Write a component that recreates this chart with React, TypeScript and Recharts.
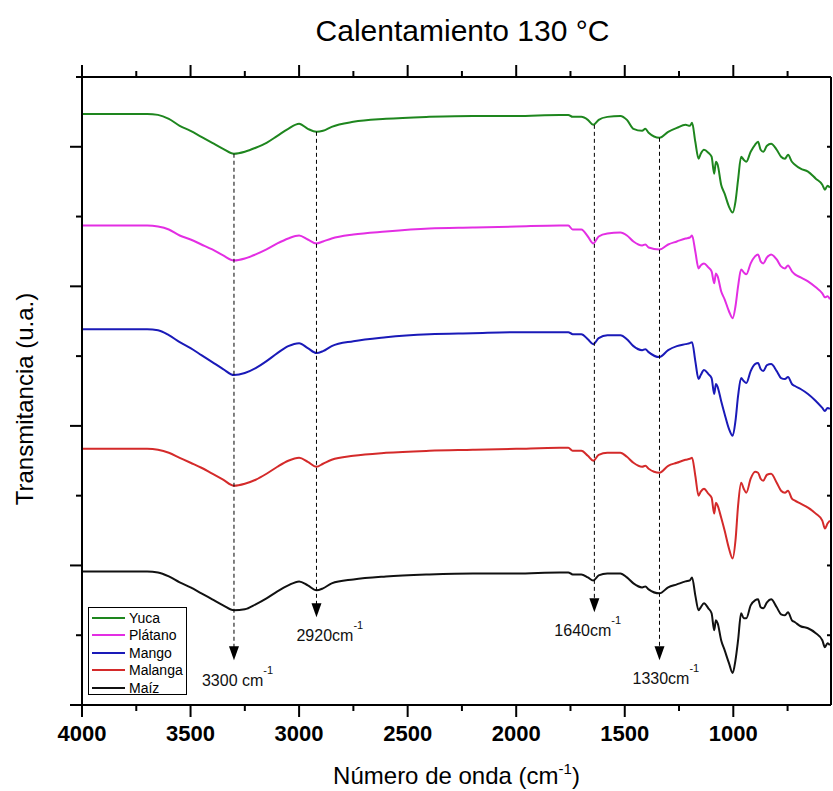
import React from "react";
import {
  LineChart,
  Line,
  XAxis,
  YAxis,
  Legend,
  Label,
  ReferenceLine,
  ReferenceDot,
} from "recharts";

// wavenumbers (cm-1)
const wavenumbers = [
  4000, 3700, 3650, 3600, 3550, 3500, 3450, 3400, 3350, 3300,
  3250, 3200, 3150, 3100, 3050, 3000, 2960, 2920, 2890, 2850,
  2750, 2600, 2400, 2200, 2000, 1800, 1760, 1740, 1700, 1670,
  1645, 1620, 1580, 1520, 1490, 1460, 1420, 1405, 1390, 1340,
  1300, 1260, 1220, 1200, 1190, 1175, 1160, 1150, 1135, 1115,
  1100, 1088, 1080, 1072, 1056, 1040, 1020, 1003, 990, 978,
  964, 952, 940, 920, 900, 886, 874, 862, 845, 826,
  800, 780, 762, 748, 730, 716, 690, 656, 620, 590,
  578, 566, 555,
];

// transmittance (u.a.), each curve already stacked with its offset
const yuca = [
  593, 593, 592, 588, 581, 576, 570, 564, 558, 553,
  555, 559, 564, 571, 578, 583, 578, 575, 576, 580,
  585, 588, 590, 591, 591, 592, 592, 590, 590, 587,
  582, 587, 590, 591, 587, 578, 576, 578, 574, 569,
  575, 579, 582, 581, 584, 565, 548, 553, 557, 554,
  550, 533, 545, 542, 522, 513, 500, 494, 505, 527,
  550, 547, 545, 555, 562, 565, 557, 555, 561, 563,
  557, 550, 548, 552, 545, 542, 538, 535, 528, 522,
  517, 521, 519,
];

const platano = [
  481, 481, 480, 477, 471, 467, 462, 457, 451, 446,
  448, 452, 457, 463, 468, 471, 467, 463, 465, 468,
  472, 475, 478, 479, 480, 481, 481, 477, 477, 470,
  463, 470, 473, 474, 471, 465, 461, 462, 459, 457,
  462, 465, 468, 469, 471, 455, 438, 441, 443, 439,
  435, 423, 433, 430, 415, 407, 395, 388, 400, 420,
  437, 434, 432, 443, 450, 452, 445, 443, 449, 452,
  447, 440, 438, 441, 435, 432, 429, 425, 419, 413,
  409, 410, 407,
];

const mango = [
  377, 377, 376, 371, 364, 358, 351, 344, 337, 331,
  333, 338, 345, 353, 360, 363, 358, 353, 355, 360,
  365, 369, 372, 373, 374, 374, 374, 372, 372, 367,
  362, 368, 371, 371, 367, 360, 356, 357, 354, 349,
  356, 360, 362, 363, 364, 345, 327, 331, 336, 332,
  328, 312, 322, 319, 305, 292, 277, 270, 285, 310,
  328, 325, 323, 335, 342, 343, 337, 335, 341, 342,
  335, 328, 327, 329, 322, 320, 317, 312, 305, 298,
  295, 298, 297,
];

const malanga = [
  257, 257, 256, 253, 248, 243, 238, 232, 226, 220,
  222, 226, 232, 239, 245, 248, 244, 239, 242, 246,
  250, 253, 255, 256, 257, 258, 258, 255, 255, 250,
  245, 251, 253, 253, 249, 243, 239, 240, 237, 233,
  240, 243, 246, 247, 248, 230, 210, 214, 217, 212,
  208, 192, 203, 200, 188, 175, 157, 147, 165, 200,
  223, 217, 213, 227, 234, 233, 227, 225, 231, 232,
  223, 215, 213, 215, 207, 205, 202, 198, 192, 185,
  177, 182, 185,
];

const maiz = [
  134, 134, 133, 129, 123, 118, 112, 106, 100, 95,
  96, 101, 107, 114, 120, 124, 120, 115, 117, 122,
  126, 129, 131, 132, 132, 133, 133, 131, 131, 128,
  125, 130, 132, 132, 128, 122, 118, 119, 116, 112,
  118, 121, 124, 125, 128, 110, 95, 98, 102, 97,
  92, 75, 85, 82, 65, 55, 42, 32, 45, 65,
  92, 87, 87, 100, 105, 106, 98, 97, 103, 106,
  98, 91, 90, 93, 85, 83, 79, 77, 72, 65,
  58, 62, 60,
];

const xTicks = [4000, 3750, 3500, 3250, 3000, 2750, 2500, 2250, 2000, 1750, 1500, 1250, 1000, 750];
const yTicks = [0, 70, 140, 210, 280, 350, 420, 490, 560, 630];

// marked bands: where the dashed line sits, where it starts and where the arrow points
const bandPositions = [3300, 2920, 1640, 1340];
const bandLabels = ["3300 cm", "2920cm", "1640cm", "1330cm"];
const bandLineTops = [553, 575, 582, 569];
const bandArrowTips = [45, 88, 93, 45];

const SERIES = [
  { key: "yuca", name: "Yuca", color: "#1e861e" },
  { key: "platano", name: "Plátano", color: "#e32ee3" },
  { key: "mango", name: "Mango", color: "#1a1ab8" },
  { key: "malanga", name: "Malanga", color: "#d42a2a" },
  { key: "maiz", name: "Maíz", color: "#111111" },
];

const data = wavenumbers.map((w, i) => ({
  w,
  yuca: yuca[i],
  platano: platano[i],
  mango: mango[i],
  malanga: malanga[i],
  maiz: maiz[i],
}));

const FONT = "'Liberation Sans', Arial, Helvetica, sans-serif";
const labelShift = [-32, -20, -40, -27];

function BottomTick({ x, y, payload }: any) {
  const major = payload.value % 500 === 0;
  return (
    <g>
      <line x1={x} x2={x} y1={y} y2={y + (major ? 12 : 6)} stroke="#000" strokeWidth={2} />
      {major && (
        <text x={x} y={y + 36} textAnchor="middle" fontFamily={FONT} fontSize={22} fontWeight="bold" fill="#000">
          {payload.value}
        </text>
      )}
    </g>
  );
}

function TopTick({ x, y, payload }: any) {
  const major = payload.value % 500 === 0;
  return <line x1={x} x2={x} y1={y} y2={y - (major ? 12 : 6)} stroke="#000" strokeWidth={2} />;
}

function LeftTick({ x, y, payload }: any) {
  const major = payload.value % 140 === 0;
  return <line x1={x} x2={x - (major ? 12 : 6)} y1={y} y2={y} stroke="#000" strokeWidth={2} />;
}

// right side: short notches pointing into the plot
function RightTick({ x, y }: any) {
  return <line x1={x} x2={x - 4} y1={y} y2={y} stroke="#000" strokeWidth={2} />;
}

function ChartTitle({ viewBox }: any) {
  return (
    <text x={viewBox.x + viewBox.width / 2 + 6} y={41} textAnchor="middle" fontFamily={FONT} fontSize={30} fill="#000">
      Calentamiento 130 °C
    </text>
  );
}

function XTitle({ viewBox }: any) {
  return (
    <text x={viewBox.x + viewBox.width / 2} y={viewBox.y + 79} textAnchor="middle" fontFamily={FONT} fontSize={24} fill="#000">
      Número de onda (cm
      <tspan dy={-10} fontSize={15}>-1</tspan>
      <tspan dy={10}>)</tspan>
    </text>
  );
}

function YTitle({ viewBox }: any) {
  const cx = 24;
  const cy = viewBox.y + viewBox.height / 2 + 8;
  return (
    <text
      x={cx}
      y={cy}
      textAnchor="middle"
      dominantBaseline="central"
      transform={`rotate(-90, ${cx}, ${cy})`}
      fontFamily={FONT}
      fontSize={24}
      fill="#000"
    >
      Transmitancia (u.a.)
    </text>
  );
}

function LegendBox({ payload }: any) {
  const order = SERIES.map((s) => s.name);
  const items = [...(payload || [])].sort((a: any, b: any) => order.indexOf(a.value) - order.indexOf(b.value));
  return (
    <div
      style={{
        boxSizing: "border-box",
        width: 99,
        height: 88,
        border: "1px solid #000",
        background: "#fff",
        padding: "1px 3px",
        fontFamily: FONT,
        fontSize: 14,
        color: "#000",
      }}
    >
      {items.map((p: any) => (
        <div key={p.value} style={{ display: "flex", alignItems: "center", height: 17.5 }}>
          <span style={{ display: "inline-block", width: 33, height: 2, background: p.color, marginRight: 4 }} />
          <span>{p.value}</span>
        </div>
      ))}
    </div>
  );
}

function makeArrow(i: number) {
  return (props: any) => {
    const { cx, cy } = props;
    return (
      <g>
        <polygon points={`${cx},${cy} ${cx - 5},${cy - 14} ${cx + 5},${cy - 14}`} fill="#000" />
        <text x={cx + labelShift[i]} y={cy + (i === 0 ? 26 : 24)} fontFamily={FONT} fontSize={16} fill="#111">
          {bandLabels[i]}
          <tspan dy={-12} fontSize={11}>-1</tspan>
        </text>
      </g>
    );
  };
}

export default function App() {
  return (
    <div style={{ position: "absolute", left: 0, top: 0, width: 833, height: 791, background: "#fff" }}>
      <LineChart width={833} height={791} data={data} margin={{ top: 67, right: 0, bottom: 56, left: 72 }}>
        <XAxis
          xAxisId="b"
          dataKey="w"
          type="number"
          domain={[550, 4000]}
          reversed
          allowDataOverflow
          ticks={xTicks}
          interval={0}
          tickSize={0}
          tickMargin={0}
          tickLine={false}
          tick={<BottomTick />}
          axisLine={{ stroke: "#000", strokeWidth: 2 }}
          height={30}
        >
          <Label content={<XTitle />} />
        </XAxis>
        <XAxis
          xAxisId="t"
          orientation="top"
          dataKey="w"
          type="number"
          domain={[550, 4000]}
          reversed
          allowDataOverflow
          ticks={xTicks}
          interval={0}
          tickSize={0}
          tickMargin={0}
          tickLine={false}
          tick={<TopTick />}
          axisLine={{ stroke: "#000", strokeWidth: 2 }}
          height={10}
        >
          <Label content={<ChartTitle />} />
        </XAxis>
        <YAxis
          yAxisId="l"
          type="number"
          domain={[0, 630]}
          allowDataOverflow
          ticks={yTicks}
          interval={0}
          tickSize={0}
          tickMargin={0}
          tickLine={false}
          tick={<LeftTick />}
          axisLine={{ stroke: "#000", strokeWidth: 2 }}
          width={10}
        >
          <Label content={<YTitle />} />
        </YAxis>
        <YAxis
          yAxisId="r"
          orientation="right"
          type="number"
          domain={[0, 630]}
          allowDataOverflow
          ticks={yTicks}
          interval={0}
          tickSize={0}
          tickMargin={0}
          tickLine={false}
          tick={<RightTick />}
          axisLine={{ stroke: "#000", strokeWidth: 2 }}
          width={2}
        />
        {SERIES.map((s) => (
          <Line
            key={s.key}
            xAxisId="b"
            yAxisId="l"
            type="monotone"
            dataKey={s.key}
            name={s.name}
            stroke={s.color}
            strokeWidth={2}
            dot={false}
            isAnimationActive={false}
          />
        ))}
        {bandPositions.map((b, i) => (
          <ReferenceLine
            key={`line-${b}`}
            xAxisId="b"
            yAxisId="l"
            segment={[
              { x: b, y: bandLineTops[i] },
              { x: b, y: bandArrowTips[i] + 10 },
            ]}
            stroke="#000"
            strokeWidth={1}
            strokeDasharray="4 3"
          />
        ))}
        {bandPositions.map((b, i) => (
          <ReferenceDot
            key={`arrow-${b}`}
            xAxisId="b"
            yAxisId="l"
            x={b}
            y={bandArrowTips[i]}
            r={0}
            shape={makeArrow(i)}
          />
        ))}
        <Legend
          layout="vertical"
          align="center"
          verticalAlign="middle"
          itemSorter={null as any}
          content={<LegendBox />}
          wrapperStyle={{ left: 88, top: 607, width: 99, height: 88, bottom: "auto", right: "auto" }}
        />
      </LineChart>
    </div>
  );
}
